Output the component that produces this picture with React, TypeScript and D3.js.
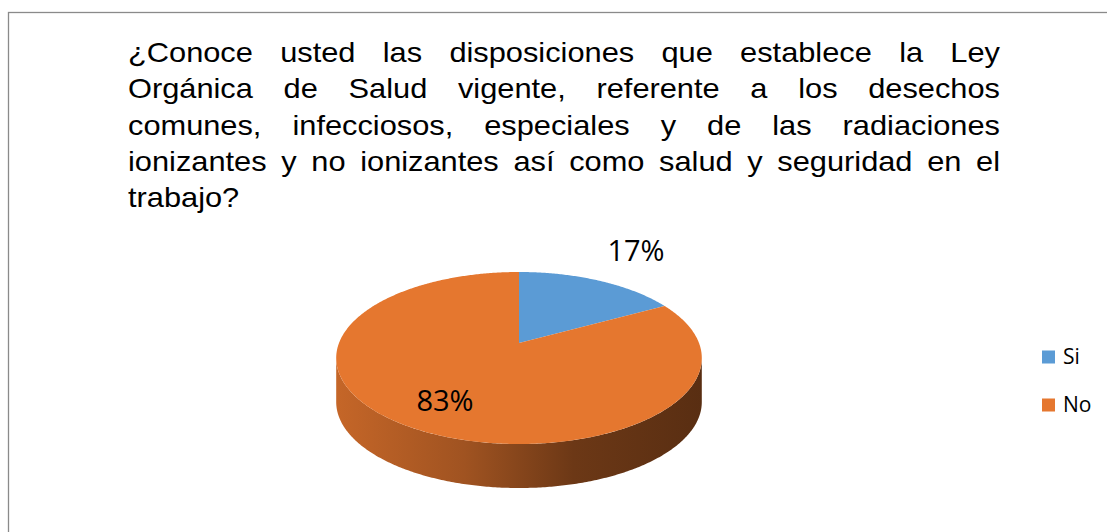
import React from 'react';
import * as d3 from 'd3';

const categories: string[] = ['Si', 'No'];
const values: number[] = [17, 83];
const sliceColors: string[] = ['#5B9BD5', '#E5772F'];
const titleLines: string[] = [
  '¿Conoce usted las disposiciones que establece la Ley',
  'Orgánica de Salud vigente, referente a los desechos',
  'comunes, infecciosos, especiales y de las radiaciones',
  'ionizantes y no ionizantes así como salud y seguridad en el',
  'trabajo?',
];

const W = 1107;
const H = 532;
const TITLE_FONT = "28.5px 'Liberation Sans', Arial, sans-serif";
const TITLE_SX = 1.08;
const titleLeft = 128;
const titleRight = 1000;
const titleBase = 62;
const titleLineH = 36.3;

// pie projection parameters
const cx = 519;
const cy = 343;
const A = 180;
const B = 83.4;
const P = 0.1744;
const DEPTH = 44;

function proj(theta: number, r: number, yOff = 0): [number, number] {
  const u = r * Math.cos(theta);
  const v = r * Math.sin(theta);
  const w = 1 + P * u;
  return [cx + (A * v) / w, cy - (B * u) / w + yOff];
}

function arcPoints(a0: number, a1: number, yOff = 0): [number, number][] {
  const n = Math.max(2, Math.ceil(Math.abs(a1 - a0) / 0.01));
  const pts: [number, number][] = [];
  for (let i = 0; i <= n; i++) {
    const t = a0 + ((a1 - a0) * i) / n;
    pts.push(proj(t, 1, yOff));
  }
  return pts;
}

let measureCtx: CanvasRenderingContext2D | null = null;
function measure(text: string, font: string): number {
  if (!measureCtx) {
    const c = document.createElement('canvas');
    measureCtx = c.getContext('2d');
  }
  if (!measureCtx) return text.length * 14;
  measureCtx.font = font;
  return measureCtx.measureText(text).width;
}

function scaleColor(c: string, k: number): string {
  const rgb = d3.rgb(c);
  return d3.rgb(rgb.r * k, rgb.g * k, rgb.b * k).formatHex();
}

export default function App() {
  const pie = d3.pie<number>().sort(null).value((d) => d);
  const arcs = pie(values);
  const total = d3.sum(values);
  const line = d3.line<[number, number]>();

  const visLo = Math.acos(-P);
  const visHi = 2 * Math.PI - visLo;
  const xMin = proj(2 * Math.PI - visLo, 1)[0];
  const xMax = proj(visLo, 1)[0];

  const titleEls = titleLines.map((ln, i) => {
    const words = ln.split(' ');
    const y = titleBase + i * titleLineH;
    const last = i === titleLines.length - 1;
    const widths = words.map((w) => measure(w, TITLE_FONT) * TITLE_SX);
    const sumW = d3.sum(widths);
    const gap =
      last || words.length < 2
        ? measure(' ', TITLE_FONT) * TITLE_SX
        : (titleRight - titleLeft - sumW) / (words.length - 1);
    let x = titleLeft;
    return words.map((w, j) => {
      const el = (
        <text
          key={`t${i}-${j}`}
          transform={`translate(${x},${y}) scale(${TITLE_SX},1)`}
          style={{ font: TITLE_FONT }}
          fill="#000"
        >
          {w}
        </text>
      );
      x += widths[j] + gap;
      return el;
    });
  });

  return (
    <svg width={W} height={H} style={{ position: 'absolute', left: 0, top: 0 }}>
      <defs>
        {arcs.map((a, i) => (
          <linearGradient key={i} id={`side${i}`} gradientUnits="userSpaceOnUse" x1={xMin} x2={xMax} y1={0} y2={0}>
            <stop offset="0" stopColor={scaleColor(sliceColors[i], 0.86)} />
            <stop offset="0.35" stopColor={scaleColor(sliceColors[i], 0.7)} />
            <stop offset="0.65" stopColor={scaleColor(sliceColors[i], 0.47)} />
            <stop offset="1" stopColor={scaleColor(sliceColors[i], 0.39)} />
          </linearGradient>
        ))}
      </defs>
      <rect x={8.5} y={12.5} width={1300} height={700} fill="#fff" stroke="#8a8a8a" strokeWidth={1.3} />
      {titleEls}
      {/* sides */}
      {arcs.map((a, i) => {
        const lo = Math.max(a.startAngle, visLo);
        const hi = Math.min(a.endAngle, visHi);
        if (hi <= lo) return null;
        const top = arcPoints(lo, hi);
        const bot = arcPoints(hi, lo, DEPTH);
        return <path key={`s${i}`} d={(line([...top, ...bot]) || '') + 'Z'} fill={`url(#side${i})`} />;
      })}
      {/* top faces */}
      {arcs.map((a, i) => {
        const pts: [number, number][] = [[cx, cy], ...arcPoints(a.startAngle, a.endAngle)];
        return <path key={`f${i}`} d={(line(pts) || '') + 'Z'} fill={sliceColors[i]} />;
      })}
      {/* data labels */}
      {arcs.map((a, i) => {
        const mid = (a.startAngle + a.endAngle) / 2;
        const share = a.value / total;
        const r = share < 0.25 ? 1.58 : 0.72;
        const [lx, ly] = proj(mid, r);
        return (
          <text
            key={`l${i}`}
            x={lx}
            y={ly + 10}
            textAnchor="middle"
            style={{ font: "29px 'Open Sans', sans-serif" }}
            fill="#000"
          >
            {`${Math.round(share * 100)}%`}
          </text>
        );
      })}
      {/* legend */}
      {categories.map((c, i) => (
        <g key={`g${i}`} transform={`translate(1042, ${350.5 + i * 48})`}>
          <rect x={0} y={0} width={13} height={13} fill={sliceColors[i]} />
          <text x={21} y={13.5} style={{ font: "21px 'Open Sans', sans-serif" }} fill="#000">
            {c}
          </text>
        </g>
      ))}
    </svg>
  );
}
